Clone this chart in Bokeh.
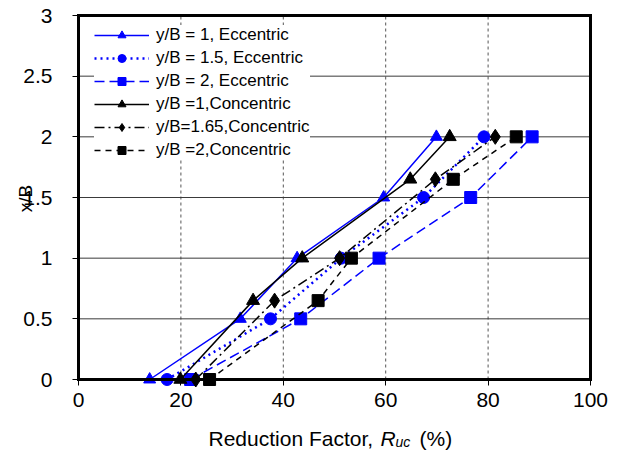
import numpy as np
from bokeh.plotting import figure
from bokeh.models import Range1d, FixedTicker, NumeralTickFormatter, Label, Legend, LinearAxis
from bokeh.embed import file_html
from bokeh.resources import INLINE

# ---- data ----
y_ecc = [0, 0.5, 1, 1.5, 2]
y_con = [0, 0.65, 1, 1.65, 2]
ecc_y1 = [13.9, 31.6, 42.7, 59.6, 69.9]
ecc_y15 = [17.3, 37.5, 51.3, 67.4, 79.2]
ecc_y2 = [21.9, 43.4, 58.7, 76.6, 88.6]
con_y1 = [19.9, 34.1, 43.7, 64.8, 72.5]
con_y165 = [22.9, 38.3, 51.0, 69.7, 81.4]
con_y2 = [25.6, 46.8, 53.3, 73.2, 85.5]
labels = ["y/B = 1, Eccentric", "y/B = 1.5, Eccentric", "y/B = 2, Eccentric",
          "y/B =1,Concentric", "y/B=1.65,Concentric", "y/B =2,Concentric"]
x_ticks = [0, 20, 40, 60, 80, 100]
y_ticks = [0, 0.5, 1, 1.5, 2, 2.5, 3]
X0, X1 = 0, 100
Y0, Y1 = 0, 3

FONT = "Liberation Sans"
W, H = 618, 451
# plot box in canvas pixels
PL, PR, PT, PB = 78, 590, 15, 379

def dx(px):
    return X0 + (px - PL) / (PR - PL) * (X1 - X0)

def dy(py):
    return Y0 + (PB - py) / (PB - PT) * (Y1 - Y0)

p = figure(width=W, height=H, output_backend="svg", toolbar_location=None,
           x_range=Range1d(dx(0), dx(W)), y_range=Range1d(dy(H), dy(0)),
           x_axis_location=None, y_axis_location=None,
           min_border_left=0, min_border_right=0, min_border_top=0, min_border_bottom=0)
p.background_fill_color = "white"
p.border_fill_color = "white"
p.outline_line_color = None
p.xgrid.visible = False
p.ygrid.visible = False

# grid lines (drawn first, under the data)
p.segment(x0=x_ticks[1:-1], y0=Y0, x1=x_ticks[1:-1], y1=Y1,
          line_color="#555555", line_dash="3 3", line_width=1)
p.segment(x0=X0, y0=y_ticks[1:-1], x1=X1, y1=y_ticks[1:-1],
          line_color="#3a3a3a", line_width=1)

BLUE = "#0000ff"
series = [
    (ecc_y1, y_ecc, BLUE, "solid", 1.5, "triangle", 12),
    (ecc_y15, y_ecc, BLUE, "2 4", 2.5, "circle", 12),
    (ecc_y2, y_ecc, BLUE, "10 5", 1.5, "square", 12),
    (con_y1, y_con, "black", "solid", 1.5, "triangle", 13),
    (con_y165, y_con, "black", "10 4 2 4", 1.5, "diamond", 15),
    (con_y2, y_con, "black", "6 5", 1.5, "square", 12),
]
items = []
for (xs, ys, col, dash, lw, mk, sz), lab in zip(series, labels):
    r1 = p.line(xs, ys, line_color=col, line_dash=dash, line_width=lw)
    r2 = p.scatter(xs, ys, marker=mk, size=sz, fill_color=col, line_color=col)
    items.append((lab, [r1, r2]))

def make_axis(loc, bounds, ticks, **kw):
    ax = LinearAxis(fixed_location=loc, bounds=bounds, ticker=FixedTicker(ticks=ticks), **kw)
    ax.axis_line_width = 3
    ax.axis_line_color = "black"
    ax.axis_line_cap = "square"
    ax.major_tick_line_color = "black"
    ax.major_tick_line_width = 1
    ax.major_tick_out = 6
    ax.major_tick_in = 0
    ax.minor_tick_line_color = None
    ax.major_label_text_font = FONT
    ax.major_label_text_font_size = "21px"
    ax.major_label_text_color = "black"
    return ax

xaxis = make_axis(Y0, (X0, X1), x_ticks)
xaxis.major_label_standoff = 7
yaxis = make_axis(X0, (Y0, Y1), y_ticks, formatter=NumeralTickFormatter(format="0.[0]"))
yaxis.major_label_standoff = 20
top = make_axis(Y1, (X0, X1), [])
right = make_axis(X1, (Y0, Y1), [])
p.add_layout(xaxis, "below")
p.add_layout(yaxis, "left")
p.add_layout(top, "above")
p.add_layout(right, "right")

legend = Legend(items=items, location=(94, 291))
legend.label_text_font = FONT
legend.label_text_font_size = "17px"
legend.label_text_color = "black"
legend.glyph_width = 55
legend.glyph_height = 20
legend.label_height = 20
legend.spacing = 3
legend.padding = 7
legend.margin = 0
legend.label_standoff = 7
legend.border_line_color = None
legend.background_fill_color = "white"
legend.background_fill_alpha = 1.0
p.add_layout(legend, "center")

p.add_layout(Label(x=dx(25), y=dy(198), text="x/B", angle=np.pi / 2,
                   text_align="center", text_baseline="middle",
                   text_font=FONT, text_font_size="19px", text_color="black"))
base = 438
p.add_layout(Label(x=dx(208), y=dy(base), text="Reduction Factor, ",
                   text_align="left", text_baseline="alphabetic",
                   text_font=FONT, text_font_size="21px", text_color="black"))
p.add_layout(Label(x=dx(380), y=dy(base), text="R", text_font_style="italic",
                   text_align="left", text_baseline="alphabetic",
                   text_font=FONT, text_font_size="21px", text_color="black"))
p.add_layout(Label(x=dx(395), y=dy(base + 3), text="uc", text_font_style="italic",
                   text_align="left", text_baseline="alphabetic",
                   text_font=FONT, text_font_size="14px", text_color="black"))
p.add_layout(Label(x=dx(419), y=dy(base), text="(%)",
                   text_align="left", text_baseline="alphabetic",
                   text_font=FONT, text_font_size="21px", text_color="black"))

open("out.html", "w").write(file_html(p, INLINE))
